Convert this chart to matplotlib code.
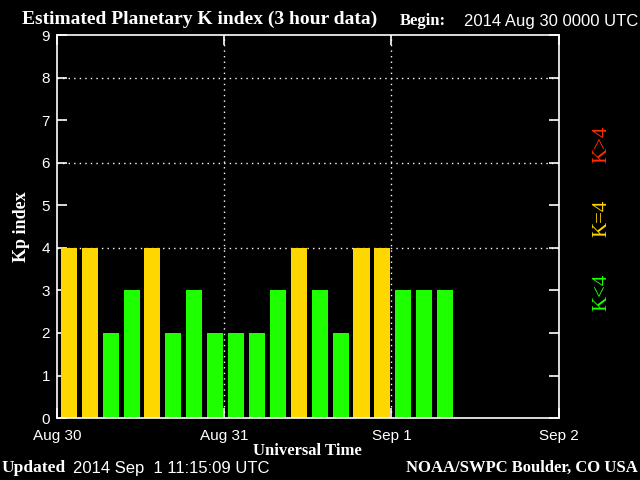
import matplotlib
matplotlib.use('Agg')
import matplotlib.pyplot as plt
import numpy as np

# 3-hour Kp values starting 2014 Aug 30 0000 UTC
kp = [4, 4, 2, 3, 4, 2, 3, 2,
      2, 2, 3, 4, 3, 2, 4, 4,
      3, 3, 3]
day_labels = ['Aug 30', 'Aug 31', 'Sep 1', 'Sep 2']
grid_levels = [4, 6, 8]

GREEN = '#1eff00'
YELLOW = '#ffd700'
RED = '#ff3000'
serif = 'Liberation Serif'
sans = 'Liberation Sans'

colors = [GREEN if k < 4 else (YELLOW if k == 4 else RED) for k in kp]
hours = np.arange(len(kp)) * 3 + 1.7

fig = plt.figure(figsize=(6.4, 4.8), dpi=100, facecolor='black')
ax = fig.add_axes([0.089, 0.129, 0.784, 0.798], facecolor='black')

ax.bar(hours, kp, width=2.3, color=colors, zorder=2)

for lev in grid_levels:
    ax.axhline(lev, color='white', ls=(0, (1, 3)), lw=1, zorder=1.5)
for d in range(1, len(day_labels) - 1):
    ax.axvline(d * 24, color='white', ls=(0, (1, 3)), lw=1, zorder=1.5)

ax.set_xlim(0, 72)
ax.set_ylim(0, 9)
for s in ax.spines.values():
    s.set_color('white')
    s.set_linewidth(1.2)

ax.set_xticks(np.arange(len(day_labels)) * 24)
ax.set_xticklabels(day_labels)
ax.set_xticks(hours, minor=True)
ax.set_yticks(range(10))
ax.tick_params(axis='both', which='major', direction='in', colors='white',
               length=7, width=1.2, top=True, right=True, labelsize=11)
ax.tick_params(axis='x', which='major', pad=8)
ax.tick_params(axis='y', which='major', pad=5)
ax.tick_params(axis='x', which='minor', direction='in', color='black',
               length=6, width=1.2, top=False)
for lbl in ax.get_xticklabels() + ax.get_yticklabels():
    lbl.set_family(sans)

ax.set_xlabel('Universal Time', color='white', family=serif,
              fontweight='bold', fontsize=12, labelpad=0)
ax.set_ylabel('Kp index', color='white', family=serif,
              fontweight='bold', fontsize=13, labelpad=8)

fig.text(0.034, 0.96, 'Estimated Planetary K index (3 hour data)',
         color='white', family=serif, fontweight='bold', fontsize=14,
         va='center')
fig.text(0.625, 0.956, 'Begin:', color='white', family=serif,
         fontweight='bold', fontsize=12, va='center')
fig.text(0.997, 0.956, '2014 Aug 30 0000 UTC', color='white', family=sans,
         fontsize=12, va='center', ha='right')

fig.text(0.003, 0.025, 'Updated', color='white', family=serif,
         fontweight='bold', fontsize=12.5, va='center')
fig.text(0.114, 0.025, '2014 Sep  1 11:15:09 UTC', color='white',
         family=sans, fontsize=12, va='center')
fig.text(0.997, 0.025, 'NOAA/SWPC Boulder, CO USA', color='white',
         family=serif, fontweight='bold', fontsize=12, va='center',
         ha='right')

# legend on the right
for txt, col, y in [('K<4', GREEN, 0.39), ('K=4', YELLOW, 0.545),
                    ('K>4', RED, 0.70)]:
    fig.text(0.94, y, txt, color=col, family=serif, fontsize=15,
             rotation=90, ha='center', va='center')

fig.savefig('out.png', dpi=100, facecolor='black')
